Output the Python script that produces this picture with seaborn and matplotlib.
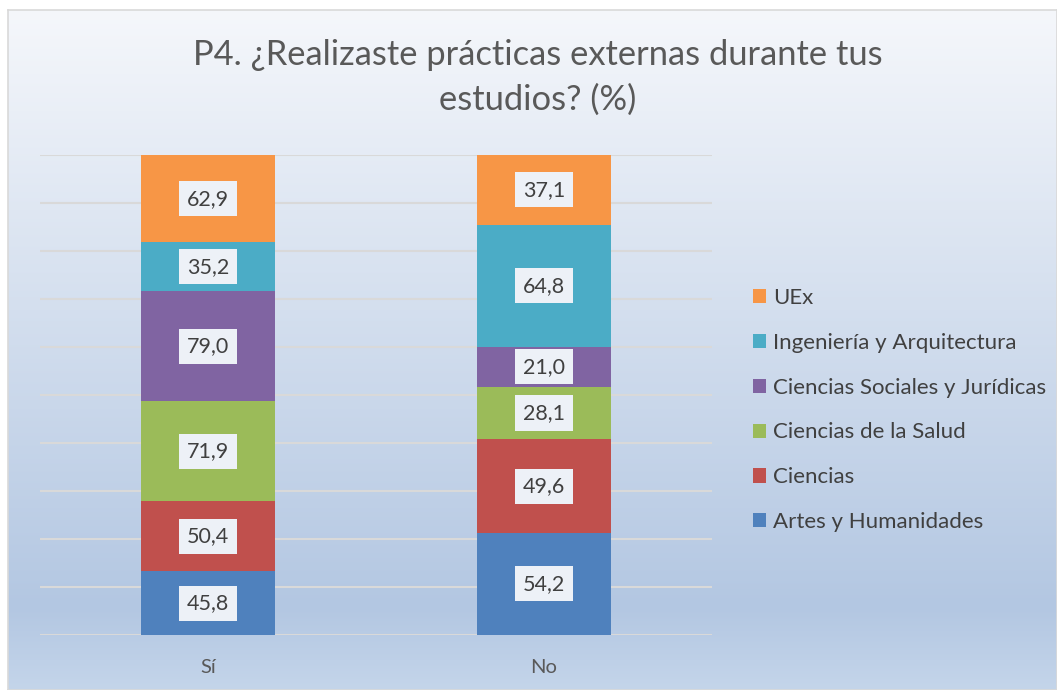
import numpy as np
import pandas as pd
import matplotlib
matplotlib.use("Agg")
import matplotlib.pyplot as plt
import seaborn as sns
from matplotlib.colors import LinearSegmentedColormap

categorias = ["Sí", "No"]
series = ["Artes y Humanidades", "Ciencias", "Ciencias de la Salud",
          "Ciencias Sociales y Jurídicas", "Ingeniería y Arquitectura", "UEx"]
valores_si = [45.8, 50.4, 71.9, 79.0, 35.2, 62.9]
valores_no = [54.2, 49.6, 28.1, 21.0, 64.8, 37.1]
colores = ["#4f81bd", "#c0504d", "#9bbb59", "#8064a2", "#4bacc6", "#f79646"]

sns.set_theme(style="white")
plt.rcParams["font.family"] = ["Lato", "DejaVu Sans"]

vals = np.array([valores_si, valores_no])  # filas = categorias
pct = vals / vals.sum(axis=1, keepdims=True) * 100
cum = np.cumsum(pct, axis=1)

fig = plt.figure(figsize=(10.57, 6.9), dpi=100)
fig.patch.set_facecolor("white")

# fondo con degradado
bg = fig.add_axes([8 / 1057, 0, 1 - 8 / 1057, 680 / 690])
cmap = LinearSegmentedColormap.from_list(
    "bg", [(0, "#f5f7fb"), (0.88, "#b3c7e2"), (1, "#c4d5ea")])
bg.imshow(np.linspace(0, 1, 256).reshape(-1, 1), aspect="auto", cmap=cmap,
          extent=[0, 1, 0, 1], origin="upper")
bg.set_xticks([])
bg.set_yticks([])
for s in bg.spines.values():
    s.set_color("#d9d9d9")
    s.set_linewidth(1.2)

ax = fig.add_axes([40 / 1057, 55 / 690, 672 / 1057, 480 / 690])
ax.patch.set_alpha(0)

for y in np.arange(0, 101, 10):
    ax.axhline(y, color="#d9d9d9", lw=1.5, zorder=0)

# barras apiladas: de la suma acumulada mayor a la menor
for i in range(len(series) - 1, -1, -1):
    df = pd.DataFrame({"cat": categorias, "val": cum[:, i]})
    sns.barplot(data=df, x="cat", y="val", color=colores[i], width=0.4,
                saturation=1, ax=ax, zorder=2, label=series[i], linewidth=0,
                edgecolor="none")

for j in range(len(categorias)):
    base = 0
    for i in range(len(series)):
        mid = base + pct[j, i] / 2
        ax.text(j, mid, f"{vals[j, i]:.1f}".replace(".", ","), ha="center",
                va="center", fontsize=15.5, color="#404040", zorder=5,
                bbox=dict(boxstyle="square,pad=0.35", facecolor="#edf1f7",
                          edgecolor="none"))
        base += pct[j, i]

ax.set_xlim(-0.5, 1.5)
ax.set_ylim(0, 100)
ax.set_yticks([])
ax.set_xlabel("")
ax.set_ylabel("")
ax.tick_params(axis="x", length=0, labelsize=14.5, labelcolor="#595959", pad=17)
for s in ax.spines.values():
    s.set_visible(False)

handles, labels = ax.get_legend_handles_labels()
if ax.get_legend() is not None:
    ax.get_legend().remove()
fig.legend(handles, labels, loc="center left",
           bbox_to_anchor=(744 / 1057, 1 - 410 / 690), borderaxespad=0,
           frameon=False, fontsize=16, labelcolor="#404040", handlelength=0.6,
           handleheight=0.6, handletextpad=0.3, labelspacing=1.12)

fig.text(538 / 1057, 1 - 55 / 690, "P4. ¿Realizaste prácticas externas durante tus",
         ha="center", va="center", fontsize=24.8, color="#595959")
fig.text(538 / 1057, 1 - 100 / 690, "estudios? (%)",
         ha="center", va="center", fontsize=24.8, color="#595959")

fig.savefig("out.png", dpi=100)
